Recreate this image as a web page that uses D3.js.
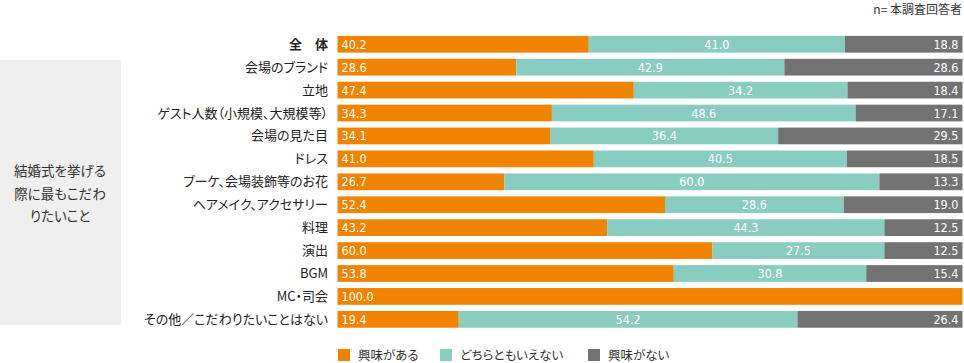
<!DOCTYPE html>
<html><head><meta charset="utf-8">
<script src="https://cdn.jsdelivr.net/npm/d3@7"></script>
<style>body{margin:0;background:#fff}svg{display:block}.jp{font-feature-settings:"palt"}.num{font-stretch:condensed}</style>
</head><body>
<script>
const categories = ["全　体","会場のブランド","立地","ゲスト人数（小規模、大規模等）","会場の見た目","ドレス","ブーケ、会場装飾等のお花","ヘアメイク、アクセサリー","料理","演出","BGM","MC・司会","その他／こだわりたいことはない"];
const interested = [40.2,28.6,47.4,34.3,34.1,41.0,26.7,52.4,43.2,60.0,53.8,100.0,19.4];
const neutral = [41.0,42.9,34.2,48.6,36.4,40.5,60.0,28.6,44.3,27.5,30.8,0,54.2];
const notInterested = [18.8,28.6,18.4,17.1,29.5,18.5,13.3,19.0,12.5,12.5,15.4,0,26.4];
const seriesNames = ["興味がある","どちらともいえない","興味がない"];
const colors = ["#f08300","#88cdc0","#727272"];

const W=964,H=363;
const svg=d3.select("body").append("svg").attr("width",W).attr("height",H);
const jp="'Noto Sans CJK JP','Noto Sans',sans-serif";
const numFont="'DejaVu Sans',sans-serif";

const x=d3.scaleLinear().domain([0,100]).range([337.5,962.5]);
const y=d3.scaleBand().domain(categories).range([32.8,330.8]).paddingInner(0.27).paddingOuter(0.135);

// group box
svg.append("rect").attr("x",0).attr("y",60).attr("width",121).attr("height",265).attr("fill","#efefef");
["結婚式を挙げる","際に最もこだわ","りたいこと"].forEach((t,i)=>{
  svg.append("text").attr("class","jp").attr("x",60).attr("y",176+i*22.5).attr("text-anchor","middle")
    .attr("font-family",jp).attr("font-size",13.5).attr("fill","#333").text(t);
});

svg.append("text").attr("class","jp").attr("x",962).attr("y",14).attr("text-anchor","end")
  .attr("font-family",jp).attr("font-size",12).attr("fill","#333").text("n= 本調査回答者");

const data=categories.map((c,i)=>({cat:c,v:[interested[i],neutral[i],notInterested[i]]}));

const rows=svg.append("g").selectAll("g").data(data).join("g");
rows.each(function(d,i){
  const g=d3.select(this);
  let acc=0;
  d.v.forEach((v,k)=>{
    if(v<=0) return;
    const x0=x(acc), x1=Math.min(x(acc+v),x(100));
    acc+=v;
    g.append("rect").attr("x",x0).attr("y",y(d.cat)).attr("width",Math.max(0,x1-x0)).attr("height",y.bandwidth()).attr("fill",colors[k]);
    const ty=y(d.cat)+y.bandwidth()/2+4.5;
    const t=g.append("text").attr("class","num").attr("y",ty).attr("fill","#fff").attr("font-family",numFont).attr("font-size",12.5).text(v.toFixed(1));
    if(k===0) t.attr("x",x0+4).attr("text-anchor","start");
    else if(k===1) t.attr("x",(x0+x1)/2).attr("text-anchor","middle");
    else t.attr("x",x1-4).attr("text-anchor","end");
  });
  g.append("text").attr("class","jp").attr("x",328).attr("y",y(d.cat)+y.bandwidth()/2+4.5).attr("text-anchor","end")
    .attr("font-family",jp).attr("font-size",13).attr("fill","#222")
    .attr("font-weight",i===0?"bold":"normal").text(d.cat);
});

// legend
const legX=[338,440,588];
seriesNames.forEach((n,k)=>{
  svg.append("rect").attr("x",legX[k]).attr("y",349).attr("width",12).attr("height",12).attr("fill",colors[k]);
  svg.append("text").attr("class","jp").attr("x",legX[k]+20).attr("y",359.5).attr("font-family",jp).attr("font-size",12.5).attr("fill","#333").text(n);
});
</script>
</body></html>
